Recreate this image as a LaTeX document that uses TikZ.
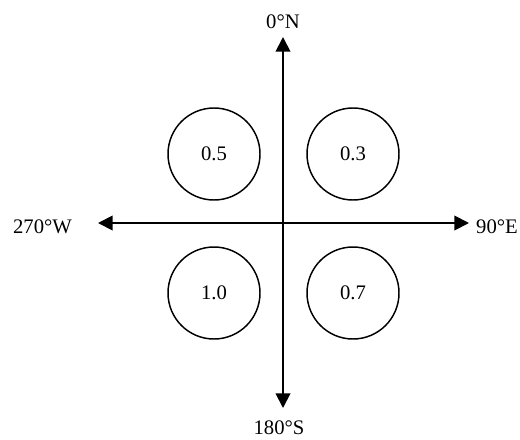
\documentclass[tikz,border=0pt]{standalone}
\usepackage{fontspec}
\setmainfont{Liberation Serif}
\usetikzlibrary{arrows.meta}
\begin{document}
\begin{tikzpicture}[x=0.75pt,y=-0.75pt,
  every node/.style={font=\fontsize{15.5}{18}\selectfont},
  axis/.style={line width=1.4pt,{Triangle[length=11pt,width=11pt]}-{Triangle[length=11pt,width=11pt]}},
  zone/.style={circle,draw,line width=1.1pt,minimum size=69pt,inner sep=0pt},
  lbl/.style={anchor=base,inner sep=0pt}]
\useasboundingbox (0,0) rectangle (520,439);
\coordinate (ntip) at (283,37);
\coordinate (stip) at (283,408);
\coordinate (wtip) at (98,223);
\coordinate (etip) at (469,223);
\draw[axis] (ntip) -- (stip);
\draw[axis] (wtip) -- (etip);
\node[zone] (c1) at (214,154) {0.5};
\node[zone] (c2) at (353,154) {0.3};
\node[zone] (c3) at (214,293) {1.0};
\node[zone] (c4) at (353,293) {0.7};
\node[lbl] (n) at (283,28) {0°N};
\node[lbl] (s) at (279,434.5) {180°S};
\node[lbl] (w) at (42.5,233) {270°W};
\node[lbl] (e) at (497,233) {90°E};
\end{tikzpicture}
\end{document}
